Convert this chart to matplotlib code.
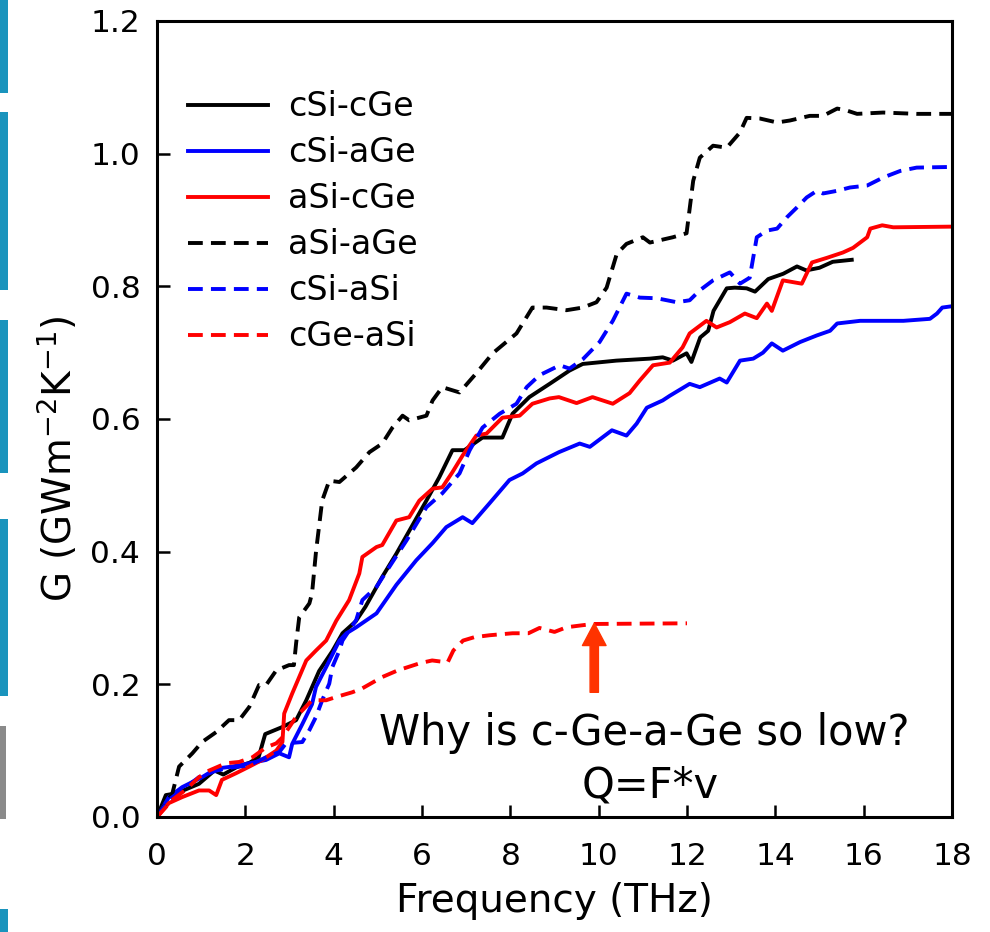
import matplotlib
matplotlib.use("Agg")
import matplotlib.pyplot as plt
from matplotlib.patches import Rectangle

plt.rcParams['font.family'] = ['DejaVu Sans']
plt.rcParams['mathtext.default'] = 'regular'

# Cumulative interfacial conductance G (GW m^-2 K^-1) vs phonon frequency (THz)
cSi_cGe_f = [0, 0.2, 0.45, 0.95, 1.3, 1.5, 1.8, 2.1, 2.3, 2.45, 2.85, 3.15, 3.38, 3.67, 3.97,
             4.2, 4.5, 4.72, 5.1, 5.42, 5.87, 6.1, 6.39, 6.69, 6.96, 7.37, 7.82, 8.05, 8.43,
             8.89, 9.34, 9.64, 10.4, 11.16, 11.45, 11.68, 11.99, 12.1, 12.3, 12.48, 12.6,
             12.9, 13.08, 13.35, 13.54, 13.84, 14.18, 14.49, 14.7, 15.0, 15.3, 15.73]
cSi_cGe_G = [0, 0.033, 0.036, 0.05, 0.07, 0.064, 0.075, 0.082, 0.09, 0.125, 0.136, 0.146,
             0.176, 0.22, 0.25, 0.277, 0.295, 0.317, 0.362, 0.397, 0.45, 0.477, 0.512, 0.553,
             0.553, 0.572, 0.572, 0.608, 0.633, 0.653, 0.673, 0.683, 0.688, 0.691, 0.693,
             0.688, 0.699, 0.686, 0.723, 0.733, 0.763, 0.797, 0.798, 0.797, 0.792, 0.811,
             0.819, 0.83, 0.824, 0.828, 0.837, 0.84]

cSi_aGe_f = [0, 0.27, 0.57, 1.02, 1.34, 1.7, 2.09, 2.47, 2.77, 2.99, 3.06, 3.29, 3.51, 3.6,
             3.83, 4.13, 4.29, 4.51, 4.97, 5.42, 5.87, 6.24, 6.55, 6.92, 7.14, 7.53, 7.98,
             8.28, 8.59, 9.1, 9.57, 9.8, 10.3, 10.63, 10.86, 11.09, 11.45, 11.61, 12.06,
             12.29, 12.74, 12.9, 13.2, 13.5, 13.72, 13.92, 14.17, 14.56, 14.94, 15.24, 15.4,
             15.92, 16.9, 17.5, 17.66, 17.78, 18.0]
cSi_aGe_G = [0, 0.03, 0.045, 0.06, 0.073, 0.076, 0.081, 0.086, 0.096, 0.09, 0.11, 0.14,
             0.17, 0.196, 0.226, 0.266, 0.277, 0.286, 0.307, 0.35, 0.387, 0.413, 0.437,
             0.452, 0.443, 0.473, 0.508, 0.518, 0.533, 0.55, 0.563, 0.558, 0.583, 0.575,
             0.593, 0.617, 0.628, 0.635, 0.653, 0.648, 0.661, 0.655, 0.688, 0.691, 0.7,
             0.714, 0.703, 0.716, 0.726, 0.733, 0.744, 0.748, 0.748, 0.751, 0.759, 0.768, 0.77]

aSi_cGe_f = [0, 0.27, 0.57, 0.95, 1.18, 1.34, 1.47, 1.79, 2.09, 2.38, 2.7, 2.84, 2.88, 3.06,
             3.38, 3.6, 3.83, 4.06, 4.35, 4.58, 4.65, 4.97, 5.1, 5.42, 5.71, 5.94, 6.24,
             6.46, 6.69, 6.92, 7.23, 7.46, 7.82, 8.21, 8.5, 8.89, 9.1, 9.5, 9.86, 10.09,
             10.32, 10.7, 10.93, 11.23, 11.61, 11.9, 12.06, 12.44, 12.67, 12.97, 13.31,
             13.58, 13.81, 13.92, 14.17, 14.6, 14.83, 15.17, 15.53, 15.76, 16.08, 16.15,
             16.42, 16.67, 18.0]
aSi_cGe_G = [0, 0.021, 0.03, 0.04, 0.04, 0.033, 0.056, 0.066, 0.076, 0.086, 0.1, 0.113,
             0.156, 0.186, 0.236, 0.251, 0.266, 0.296, 0.327, 0.367, 0.392, 0.407, 0.41,
             0.447, 0.452, 0.477, 0.495, 0.497, 0.52, 0.545, 0.575, 0.578, 0.602, 0.605,
             0.623, 0.631, 0.633, 0.624, 0.633, 0.628, 0.623, 0.639, 0.658, 0.681, 0.685,
             0.708, 0.729, 0.748, 0.738, 0.746, 0.759, 0.752, 0.774, 0.763, 0.809, 0.804,
             0.836, 0.843, 0.851, 0.858, 0.874, 0.887, 0.892, 0.889, 0.89]

aSi_aGe_f = [0, 0.35, 0.5, 0.8, 1.02, 1.34, 1.63, 1.86, 2.09, 2.31, 2.47, 2.7, 2.99, 3.1,
             3.15, 3.22, 3.45, 3.51, 3.6, 3.74, 3.9, 4.13, 4.51, 4.81, 5.1, 5.33, 5.56, 5.71,
             6.1, 6.24, 6.46, 6.85, 7.23, 7.6, 8.14, 8.5, 8.82, 9.27, 9.64, 9.95, 10.18,
             10.41, 10.63, 11.0, 11.16, 11.68, 11.99, 12.14, 12.29, 12.59, 12.9, 13.2,
             13.35, 13.65, 14.04, 14.33, 14.78, 15.08, 15.4, 15.62, 15.85, 16.44, 17.2, 18.0]
aSi_aGe_G = [0, 0.036, 0.076, 0.096, 0.113, 0.128, 0.146, 0.146, 0.166, 0.199, 0.199,
             0.221, 0.229, 0.229, 0.262, 0.301, 0.322, 0.337, 0.4, 0.477, 0.507, 0.505,
             0.527, 0.55, 0.563, 0.587, 0.605, 0.598, 0.605, 0.628, 0.648, 0.64, 0.669,
             0.699, 0.729, 0.768, 0.768, 0.764, 0.768, 0.776, 0.798, 0.849, 0.864, 0.874,
             0.866, 0.874, 0.88, 0.959, 0.994, 1.012, 1.009, 1.032, 1.054, 1.053, 1.047,
             1.05, 1.057, 1.057, 1.068, 1.065, 1.06, 1.062, 1.06, 1.06]

cSi_aSi_f = [0, 0.27, 0.65, 0.95, 1.34, 1.63, 2.09, 2.47, 2.77, 2.92, 3.29, 3.45, 3.6, 3.74,
             3.9, 3.97, 4.13, 4.2, 4.51, 4.65, 4.97, 5.26, 5.65, 6.1, 6.46, 6.85, 7.08, 7.37,
             7.76, 8.14, 8.37, 8.66, 9.12, 9.34, 9.64, 10.02, 10.32, 10.63, 10.93, 11.32,
             11.77, 12.06, 12.29, 12.59, 12.97, 13.2, 13.42, 13.58, 13.81, 14.04, 14.26,
             14.49, 14.71, 14.94, 15.08, 15.4, 15.69, 16.08, 16.44, 16.83, 17.2, 18.0]
cSi_aSi_G = [0, 0.026, 0.045, 0.06, 0.07, 0.074, 0.078, 0.09, 0.098, 0.111, 0.113, 0.131,
             0.151, 0.176, 0.201, 0.226, 0.251, 0.266, 0.297, 0.327, 0.347, 0.377, 0.417,
             0.467, 0.488, 0.518, 0.553, 0.587, 0.608, 0.623, 0.648, 0.666, 0.681, 0.676,
             0.69, 0.716, 0.748, 0.789, 0.783, 0.782, 0.776, 0.779, 0.794, 0.809, 0.821,
             0.804, 0.813, 0.874, 0.884, 0.887, 0.904, 0.919, 0.934, 0.944, 0.94, 0.944,
             0.949, 0.952, 0.964, 0.974, 0.979, 0.98]

cGe_aSi_f = [0, 0.35, 0.65, 0.95, 1.18, 1.56, 1.86, 2.16, 2.47, 2.7, 2.84, 3.15, 3.51, 3.83,
             4.06, 4.42, 4.65, 5.1, 5.45, 5.96, 6.23, 6.58, 6.71, 6.93, 7.18, 7.53, 8.05,
             8.41, 8.66, 9.0, 9.27, 9.62, 9.88, 12.0]
cGe_aSi_G = [0, 0.026, 0.041, 0.06, 0.07, 0.081, 0.083, 0.09, 0.105, 0.111, 0.12, 0.151,
             0.176, 0.176, 0.181, 0.188, 0.194, 0.211, 0.221, 0.232, 0.236, 0.233, 0.251,
             0.266, 0.271, 0.274, 0.277, 0.277, 0.285, 0.279, 0.286, 0.289, 0.291, 0.292]

x_ticks = [0, 2, 4, 6, 8, 10, 12, 14, 16, 18]
y_ticks = [0.0, 0.2, 0.4, 0.6, 0.8, 1.0, 1.2]
y_tick_labels = ['0.0', '0.2', '0.4', '0.6', '0.8', '1.0', '1.2']

fig = plt.figure(figsize=(9.9, 9.32), dpi=100)
ax = fig.add_axes([157 / 990, 115 / 932, 795 / 990, 796 / 932])

lw = 2.8
dash = (0, (3.8, 2.1))
ax.plot(cSi_cGe_f, cSi_cGe_G, color='black', lw=lw, label='cSi-cGe')
ax.plot(cSi_aGe_f, cSi_aGe_G, color='#0000ff', lw=lw, label='cSi-aGe')
ax.plot(aSi_cGe_f, aSi_cGe_G, color='#ff0000', lw=lw, label='aSi-cGe')
ax.plot(aSi_aGe_f, aSi_aGe_G, color='black', lw=lw, ls=dash, label='aSi-aGe')
ax.plot(cSi_aSi_f, cSi_aSi_G, color='#0000ff', lw=lw, ls=dash, label='cSi-aSi')
ax.plot(cGe_aSi_f, cGe_aSi_G, color='#ff0000', lw=lw, ls=dash, label='cGe-aSi')

ax.set_xlim(0, 18)
ax.set_ylim(0, 1.2)
ax.set_xticks(x_ticks)
ax.set_yticks(y_ticks)
ax.set_yticklabels(y_tick_labels)
ax.tick_params(direction='in', length=9, width=1.8, labelsize=22.5)
ax.tick_params(axis='x', pad=18)
ax.tick_params(axis='y', pad=12)
for s in ax.spines.values():
    s.set_linewidth(2.2)

ax.set_xlabel('Frequency (THz)', fontsize=28, labelpad=8)
ax.set_ylabel('G (GWm$^{-2}$K$^{-1}$)', fontsize=28)
ax.yaxis.set_label_coords(-0.097, 0.45)

ax.legend(loc='upper left', bbox_to_anchor=(0.039, 0.913), frameon=False,
          fontsize=24, handlelength=2.4, handletextpad=0.6,
          labelspacing=0.39, borderpad=0, borderaxespad=0)

# annotation arrow and question
ax.annotate('', xy=(9.9, 0.292), xytext=(9.9, 0.188),
            arrowprops=dict(arrowstyle='simple,head_length=1.6,head_width=1.7,tail_width=0.6',
                            mutation_scale=10, color='#ff3300', shrinkA=0, shrinkB=0))
ax.text(0.613, 0.0905, 'Why is c-Ge-a-Ge so low?', transform=ax.transAxes,
        ha='center', va='baseline', fontsize=30)
ax.text(0.62, 0.025, 'Q=F*v', transform=ax.transAxes,
        ha='center', va='baseline', fontsize=30)

# slide-edge strip on the left border
teal = [(0, 93), (112, 290), (320, 473), (519, 696), (909, 932)]
for y0, y1 in teal:
    fig.add_artist(Rectangle((0, 1 - y1 / 932), 8 / 990, (y1 - y0) / 932,
                             transform=fig.transFigure, color='#1a94bd', lw=0))
fig.add_artist(Rectangle((0, 1 - 819 / 932), 6 / 990, 93 / 932,
                         transform=fig.transFigure, color='#8a8a8a', lw=0))

fig.savefig('out.png', dpi=100)
